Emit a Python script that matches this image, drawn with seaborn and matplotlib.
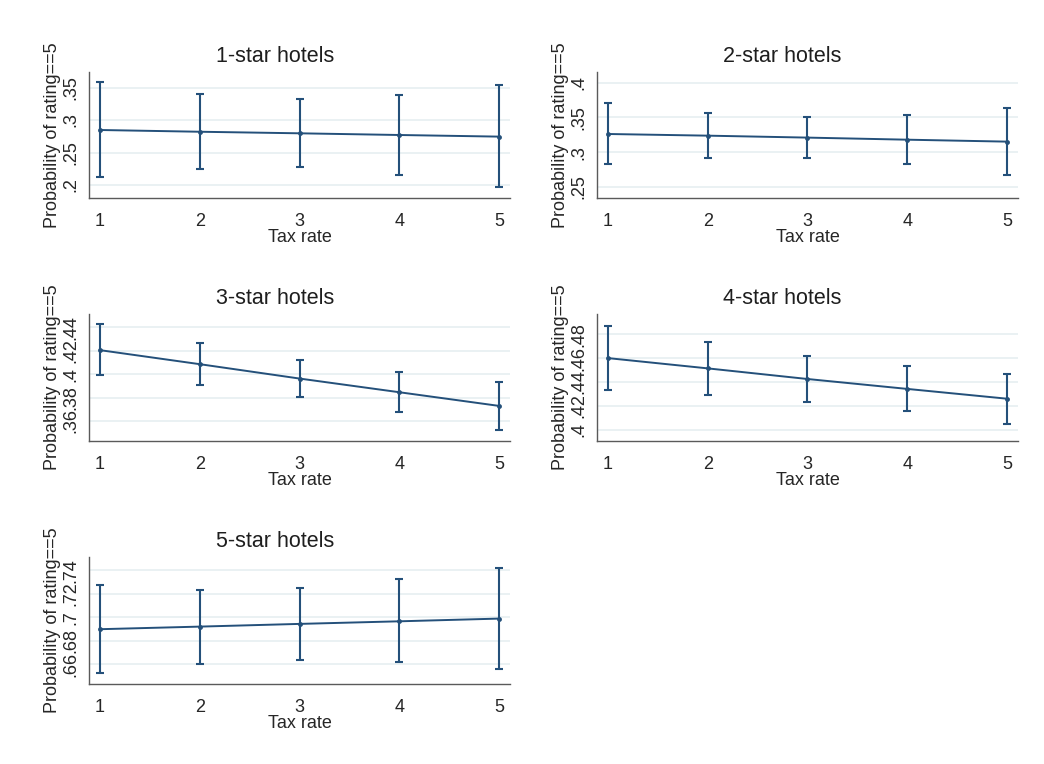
import matplotlib
matplotlib.use("Agg")
import matplotlib.pyplot as plt
import seaborn as sns
import pandas as pd

# --- DATA ---
tax_rate = [1, 2, 3, 4, 5]
panel_titles = ["1-star hotels", "2-star hotels", "3-star hotels", "4-star hotels", "5-star hotels"]

prob_1 = [0.2847, 0.2820, 0.2796, 0.2770, 0.2745]
low_1 = [0.2120, 0.2250, 0.2279, 0.2160, 0.1967]
high_1 = [0.3578, 0.3400, 0.3317, 0.3380, 0.3537]

prob_2 = [0.3262, 0.3238, 0.3210, 0.3180, 0.3152]
low_2 = [0.2832, 0.2918, 0.2923, 0.2830, 0.2675]
high_2 = [0.3707, 0.3563, 0.3500, 0.3530, 0.3630]

prob_3 = [0.4206, 0.4086, 0.3963, 0.3846, 0.3729]
low_3 = [0.3991, 0.3909, 0.3806, 0.3677, 0.3523]
high_3 = [0.4426, 0.4263, 0.4126, 0.4017, 0.3934]

prob_4 = [0.4600, 0.4514, 0.4425, 0.4342, 0.4260]
low_4 = [0.4331, 0.4290, 0.4232, 0.4155, 0.4050]
high_4 = [0.4869, 0.4737, 0.4621, 0.4533, 0.4469]

prob_5 = [0.6899, 0.6921, 0.6944, 0.6966, 0.6989]
low_5 = [0.6530, 0.6608, 0.6639, 0.6617, 0.6558]
high_5 = [0.7270, 0.7234, 0.7250, 0.7321, 0.7417]

yticks_1 = [0.20, 0.25, 0.30, 0.35]
ylabels_1 = [".2", ".25", ".3", ".35"]
yticks_2 = [0.25, 0.30, 0.35, 0.40]
ylabels_2 = [".25", ".3", ".35", ".4"]
yticks_3 = [0.36, 0.38, 0.40, 0.42, 0.44]
ylabels_3 = [".36", ".38", ".4", ".42", ".44"]
yticks_4 = [0.40, 0.42, 0.44, 0.46, 0.48]
ylabels_4 = [".4", ".42", ".44", ".46", ".48"]
yticks_5 = [0.66, 0.68, 0.70, 0.72, 0.74]
ylabels_5 = [".66", ".68", ".7", ".72", ".74"]

# --- STYLE ---
NAVY = "#24507a"
GRID = "#e6eff1"
SPINE = "#5a5a5a"

sns.set_style("white")
plt.rcParams['font.family'] = ['Liberation Sans', 'DejaVu Sans']

fig = plt.figure(figsize=(10.44, 7.64), dpi=100)

# axes boxes in figure fractions [left, bottom, width, height]
boxes = [
    [0.0853, 0.7408, 0.4033, 0.1650],
    [0.5718, 0.7408, 0.4033, 0.1650],
    [0.0853, 0.4228, 0.4033, 0.1660],
    [0.5718, 0.4228, 0.4033, 0.1660],
    [0.0853, 0.1047, 0.4033, 0.1660],
]
ylims = [(0.180, 0.374), (0.234, 0.4155), (0.3429, 0.4514), (0.3906, 0.4968), (0.6434, 0.751)]

panels = [
    (prob_1, low_1, high_1, yticks_1, ylabels_1),
    (prob_2, low_2, high_2, yticks_2, ylabels_2),
    (prob_3, low_3, high_3, yticks_3, ylabels_3),
    (prob_4, low_4, high_4, yticks_4, ylabels_4),
    (prob_5, low_5, high_5, yticks_5, ylabels_5),
]

for i, (prob, low, high, yt, yl) in enumerate(panels):
    ax = fig.add_axes(boxes[i])
    df = pd.DataFrame({"tax": tax_rate, "prob": prob, "low": low, "high": high})

    for y in yt:
        ax.axhline(y, color=GRID, lw=1.2, zorder=0)

    ax.errorbar(df["tax"], df["prob"],
                yerr=[df["prob"] - df["low"], df["high"] - df["prob"]],
                fmt="none", ecolor=NAVY, elinewidth=1.5, capsize=3, capthick=1.5, zorder=2)
    sns.lineplot(data=df, x="tax", y="prob", ax=ax, color=NAVY, lw=1.4,
                 marker="o", markersize=3.5, markeredgewidth=0, zorder=3)

    ax.set_xlim(0.89, 5.11)
    ax.set_ylim(*ylims[i])
    ax.set_xticks(tax_rate)
    ax.set_xticklabels([str(t) for t in tax_rate], fontsize=13)
    ax.set_yticks(yt)
    ax.set_yticklabels(yl, fontsize=13, rotation=90, va="center")

    # title centred over the whole panel (axis labels included), as in the original
    ax.set_title(panel_titles[i], fontsize=15.5, color="#1e1e1e", pad=7, x=0.441)
    ax.set_xlabel("Tax rate", fontsize=13, labelpad=-1)
    ax.set_ylabel("Probability of rating==5", fontsize=13, labelpad=1)

    ax.tick_params(axis="both", direction="out", length=4, width=1, color=SPINE)
    ax.tick_params(axis="x", pad=7)
    ax.tick_params(axis="y", pad=3)
    for side in ["top", "right"]:
        ax.spines[side].set_visible(False)
    for side in ["left", "bottom"]:
        ax.spines[side].set_color(SPINE)
        ax.spines[side].set_linewidth(1)
    ax.grid(False)

fig.savefig("out.png", dpi=100, facecolor="white")
